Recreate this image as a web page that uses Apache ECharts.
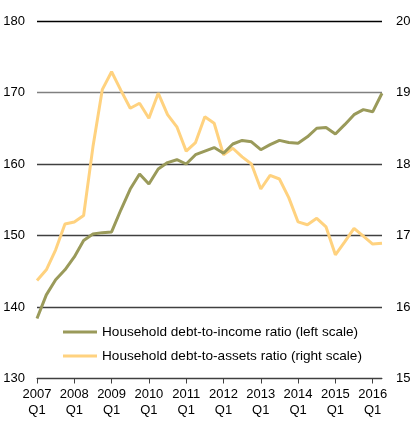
<!DOCTYPE html>
<html>
<head>
<meta charset="utf-8">
<script src="https://cdn.jsdelivr.net/npm/echarts@6/dist/echarts.min.js"></script>
<style>
  html, body { margin: 0; padding: 0; background: #fff; }
  #chart { width: 416px; height: 430px; }
</style>
</head>
<body>
<div id="chart"></div>
<script>
const categories = [
  "2007 Q1","2007 Q2","2007 Q3","2007 Q4",
  "2008 Q1","2008 Q2","2008 Q3","2008 Q4",
  "2009 Q1","2009 Q2","2009 Q3","2009 Q4",
  "2010 Q1","2010 Q2","2010 Q3","2010 Q4",
  "2011 Q1","2011 Q2","2011 Q3","2011 Q4",
  "2012 Q1","2012 Q2","2012 Q3","2012 Q4",
  "2013 Q1","2013 Q2","2013 Q3","2013 Q4",
  "2014 Q1","2014 Q2","2014 Q3","2014 Q4",
  "2015 Q1","2015 Q2","2015 Q3","2015 Q4",
  "2016 Q1","2016 Q2"
];
const debtToIncome = [
  138.4, 141.7, 143.8, 145.2, 147.0, 149.3, 150.2, 150.4,
  150.5, 153.6, 156.5, 158.6, 157.2, 159.3, 160.2, 160.6,
  160.0, 161.3, 161.8, 162.3, 161.5, 162.8, 163.3, 163.1,
  162.0, 162.7, 163.3, 163.0, 162.9, 163.8, 165.0, 165.1,
  164.2, 165.5, 166.9, 167.6, 167.3, 169.9
];
const debtToAssets = [
  16.37, 16.52, 16.80, 17.16, 17.19, 17.28, 18.24, 19.04,
  19.29, 19.03, 18.78, 18.85, 18.64, 18.99, 18.69, 18.52,
  18.18, 18.30, 18.66, 18.57, 18.13, 18.22, 18.10, 18.00,
  17.65, 17.84, 17.79, 17.53, 17.19, 17.15, 17.24, 17.12,
  16.73, 16.91, 17.10, 16.99, 16.88, 16.89
];
const seriesNames = [
  "Household debt-to-income ratio (left scale)",
  "Household debt-to-assets ratio (right scale)"
];
const leftTicks = { min: 130, max: 180, interval: 10 };
const rightTicks = { min: 15, max: 20, interval: 1 };

const font = "'Liberation Sans', Arial, sans-serif";
const chart = echarts.init(document.getElementById('chart'), null, { renderer: 'canvas' });
chart.setOption({
  animation: false,
  textStyle: { fontFamily: font },
  grid: { left: 37, right: 34, top: 21, bottom: 51.5, containLabel: false },
  legend: {
    orient: 'vertical',
    left: 58,
    top: 320,
    itemGap: 10,
    itemWidth: 34,
    itemHeight: 3,
    icon: 'rect',
    textStyle: { fontFamily: font, fontSize: 13.6, color: '#000' },
    data: seriesNames
  },
  xAxis: {
    type: 'category',
    data: categories,
    boundaryGap: false,
    axisLine: { lineStyle: { color: '#404040', width: 1 } },
    axisTick: { show: true, interval: 3, length: 5, lineStyle: { color: '#404040' } },
    axisLabel: {
      interval: 3,
      fontFamily: font,
      fontSize: 13,
      color: '#000',
      lineHeight: 16,
      margin: 8,
      formatter: v => v.replace(' ', '\n')
    },
    splitLine: { show: false }
  },
  yAxis: [
    {
      type: 'value',
      min: leftTicks.min, max: leftTicks.max, interval: leftTicks.interval,
      axisLine: { show: false },
      axisTick: { show: false },
      axisLabel: { fontFamily: font, fontSize: 13, color: '#000', margin: 12 },
      splitLine: {
        show: true,
        lineStyle: { color: ['#404040', '#404040', '#404040', '#404040', '#808080', '#000000'], width: 1.3 }
      }
    },
    {
      type: 'value',
      min: rightTicks.min, max: rightTicks.max, interval: rightTicks.interval,
      axisLine: { show: false },
      axisTick: { show: false },
      axisLabel: { fontFamily: font, fontSize: 13, color: '#000', margin: 14 },
      splitLine: { show: false }
    }
  ],
  series: [
    {
      name: seriesNames[0],
      type: 'line',
      yAxisIndex: 0,
      data: debtToIncome,
      symbol: 'none',
      lineStyle: { color: '#9A9A5A', width: 3 },
      itemStyle: { color: '#9A9A5A' },
      z: 3
    },
    {
      name: seriesNames[1],
      type: 'line',
      yAxisIndex: 1,
      data: debtToAssets,
      symbol: 'none',
      lineStyle: { color: '#FFD27F', width: 3 },
      itemStyle: { color: '#FFD27F' },
      z: 2
    }
  ]
});
</script>
</body>
</html>
